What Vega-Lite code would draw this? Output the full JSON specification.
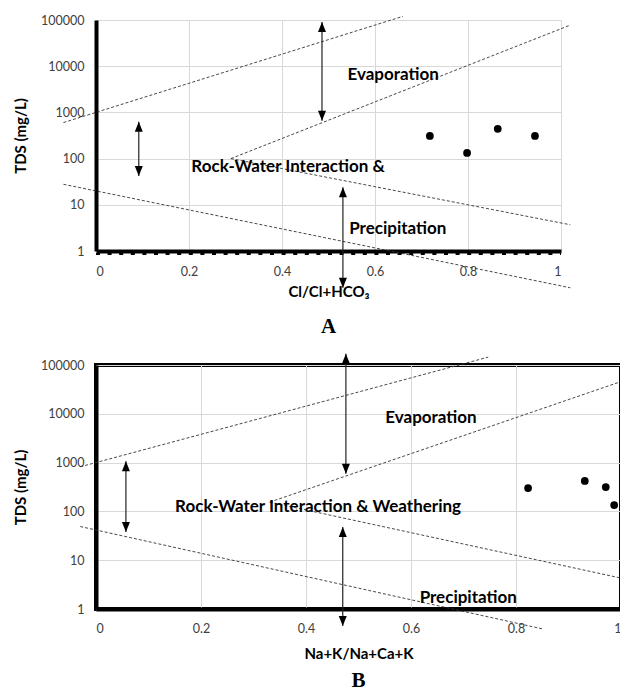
{
  "$schema": "https://vega.github.io/schema/vega-lite/v6.json",
  "padding": {"left": 11, "top": 14, "right": 0, "bottom": 0},
  "spacing": 14,
  "config": {
    "font": "Lato",
    "view": {"stroke": null},
    "axis": {
      "grid": true,
      "gridColor": "#d9d9d9",
      "gridWidth": 1,
      "ticks": false,
      "labelFont": "Lato",
      "labelFontSize": 12.5,
      "labelColor": "#404040",
      "titleFont": "Lato",
      "titleFontSize": 15,
      "titleFontWeight": "bold",
      "titleColor": "#000000",
      "domainColor": "#000000",
      "domainWidth": 4
    },
    "title": {"font": "Liberation Serif", "fontSize": 21, "fontWeight": "bold", "color": "#000000", "orient": "bottom", "anchor": "middle"}
  },
  "vconcat": [
    {
      "width": 465,
      "height": 231,
      "title": {"text": "A", "offset": 16},
      "layer": [
        {
          "data": {"values": [
            {"line": "L1", "x": -0.07, "tds": 603}, {"line": "L1", "x": 0.66, "tds": 120000},
            {"line": "L2", "x": 0.29, "tds": 100}, {"line": "L2", "x": 1.02, "tds": 77600},
            {"line": "L3", "x": 0.29, "tds": 100}, {"line": "L3", "x": 1.02, "tds": 3.7},
            {"line": "L4", "x": -0.07, "tds": 27.8}, {"line": "L4", "x": 1.02, "tds": 0.16}
          ]},
          "mark": {"type": "line", "color": "#333333", "strokeWidth": 0.9, "strokeDash": [3, 2]},
          "encoding": {
            "x": {"field": "x", "type": "quantitative", "scale": {"domain": [0, 1], "nice": false, "zero": false},
                  "axis": {"values": [0, 0.2, 0.4, 0.6, 0.8, 1], "format": "~g", "labelPadding": 14, "title": "Cl/Cl+HCO₃", "titlePadding": 7}},
            "y": {"field": "tds", "type": "quantitative", "scale": {"type": "log", "domain": [1, 100000], "nice": false},
                  "axis": {"values": [1, 10, 100, 1000, 10000, 100000], "format": "d", "labelPadding": 12, "title": "TDS (mg/L)", "titlePadding": 12}},
            "detail": {"field": "line"}
          }
        },
        {
          "data": {"values": [{"x": 0, "x2": 1, "tds": 1}]},
          "mark": {"type": "rule", "color": "#000000", "strokeWidth": 2, "strokeDash": [4, 7.6], "yOffset": 3},
          "encoding": {"x": {"field": "x", "type": "quantitative"}, "x2": {"field": "x2"}, "y": {"field": "tds", "type": "quantitative"}}
        },
        {
          "data": {"values": [
            {"x": 0.092, "top": 630, "bottom": 42},
            {"x": 0.486, "top": 91000, "bottom": 660},
            {"x": 0.531, "top": 24, "bottom": 0.16}
          ]},
          "layer": [
            {"mark": {"type": "rule", "color": "#222222", "strokeWidth": 1.2},
             "encoding": {"x": {"field": "x", "type": "quantitative"}, "y": {"field": "top", "type": "quantitative"}, "y2": {"field": "bottom"}}},
            {"mark": {"type": "point", "shape": "M0,0L-1,2.5L1,2.5Z", "filled": true, "opacity": 1, "color": "#000000", "size": 64},
             "encoding": {"x": {"field": "x", "type": "quantitative"}, "y": {"field": "top", "type": "quantitative"}}},
            {"mark": {"type": "point", "shape": "M0,0L-1,-2.5L1,-2.5Z", "filled": true, "opacity": 1, "color": "#000000", "size": 64},
             "encoding": {"x": {"field": "x", "type": "quantitative"}, "y": {"field": "bottom", "type": "quantitative"}}}
          ]
        },
        {
          "data": {"values": [
            {"x": 0.718, "tds": 310}, {"x": 0.798, "tds": 133}, {"x": 0.864, "tds": 440}, {"x": 0.944, "tds": 310}
          ]},
          "mark": {"type": "circle", "color": "#000000", "opacity": 1, "size": 60},
          "encoding": {"x": {"field": "x", "type": "quantitative"}, "y": {"field": "tds", "type": "quantitative"}}
        },
        {
          "data": {"values": [
            {"label": "Evaporation", "x": 0.639, "tds": 6300},
            {"label": "Rock-Water Interaction &", "x": 0.413, "tds": 66},
            {"label": "Precipitation", "x": 0.649, "tds": 3.0}
          ]},
          "mark": {"type": "text", "font": "Lato", "fontWeight": "bold", "fontSize": 17, "color": "#000000", "align": "center", "baseline": "middle"},
          "encoding": {"x": {"field": "x", "type": "quantitative"}, "y": {"field": "tds", "type": "quantitative"}, "text": {"field": "label"}}
        }
      ]
    },
    {
      "width": 525,
      "height": 244,
      "view": {"stroke": "#000000", "strokeWidth": 4},
      "title": {"text": "B", "offset": 8},
      "layer": [
        {
          "data": {"values": [
            {"line": "L1", "x": -0.03, "tds": 820}, {"line": "L1", "x": 0.747, "tds": 145000},
            {"line": "L2", "x": 0.331, "tds": 155}, {"line": "L2", "x": 1.0, "tds": 45700},
            {"line": "L3", "x": 0.331, "tds": 155}, {"line": "L3", "x": 1.0, "tds": 4.3},
            {"line": "L4", "x": -0.03, "tds": 49}, {"line": "L4", "x": 0.851, "tds": 0.39}
          ]},
          "mark": {"type": "line", "color": "#333333", "strokeWidth": 0.9, "strokeDash": [3, 2]},
          "encoding": {
            "x": {"field": "x", "type": "quantitative", "scale": {"domain": [0, 1], "nice": false, "zero": false},
                  "axis": {"values": [0, 0.2, 0.4, 0.6, 0.8, 1], "format": "~g", "labelPadding": 13, "title": "Na+K/Na+Ca+K", "titlePadding": 12}},
            "y": {"field": "tds", "type": "quantitative", "scale": {"type": "log", "domain": [1, 100000], "nice": false},
                  "axis": {"values": [1, 10, 100, 1000, 10000, 100000], "format": "d", "labelPadding": 12, "title": "TDS (mg/L)", "titlePadding": 12}},
            "detail": {"field": "line"}
          }
        },
        {
          "data": {"values": [
            {"x": 0.057, "top": 1070, "bottom": 38},
            {"x": 0.476, "top": 170000, "bottom": 590},
            {"x": 0.47, "top": 48, "bottom": 0.45}
          ]},
          "layer": [
            {"mark": {"type": "rule", "color": "#222222", "strokeWidth": 1.2},
             "encoding": {"x": {"field": "x", "type": "quantitative"}, "y": {"field": "top", "type": "quantitative"}, "y2": {"field": "bottom"}}},
            {"mark": {"type": "point", "shape": "M0,0L-1,2.5L1,2.5Z", "filled": true, "opacity": 1, "color": "#000000", "size": 64},
             "encoding": {"x": {"field": "x", "type": "quantitative"}, "y": {"field": "top", "type": "quantitative"}}},
            {"mark": {"type": "point", "shape": "M0,0L-1,-2.5L1,-2.5Z", "filled": true, "opacity": 1, "color": "#000000", "size": 64},
             "encoding": {"x": {"field": "x", "type": "quantitative"}, "y": {"field": "bottom", "type": "quantitative"}}}
          ]
        },
        {
          "data": {"values": [
            {"x": 0.823, "tds": 300}, {"x": 0.931, "tds": 420}, {"x": 0.971, "tds": 315}, {"x": 0.987, "tds": 135}
          ]},
          "mark": {"type": "circle", "color": "#000000", "opacity": 1, "size": 60},
          "encoding": {"x": {"field": "x", "type": "quantitative"}, "y": {"field": "tds", "type": "quantitative"}}
        },
        {
          "data": {"values": [
            {"label": "Evaporation", "x": 0.638, "tds": 8100},
            {"label": "Rock-Water Interaction & Weathering", "x": 0.423, "tds": 123},
            {"label": "Precipitation", "x": 0.709, "tds": 1.68}
          ]},
          "mark": {"type": "text", "font": "Lato", "fontWeight": "bold", "fontSize": 17, "color": "#000000", "align": "center", "baseline": "middle"},
          "encoding": {"x": {"field": "x", "type": "quantitative"}, "y": {"field": "tds", "type": "quantitative"}, "text": {"field": "label"}}
        }
      ]
    }
  ]
}
